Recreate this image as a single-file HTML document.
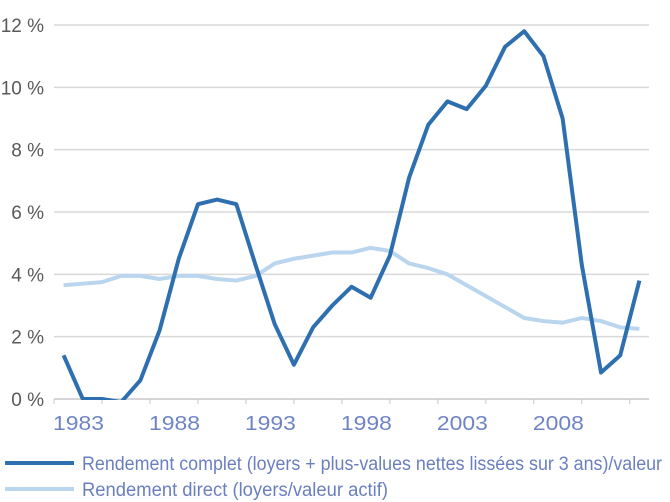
<!DOCTYPE html>
<html><head><meta charset="utf-8"><style>
html,body{margin:0;padding:0;background:#fff}
svg{display:block;font-family:"Liberation Sans Narrow","Liberation Sans",sans-serif}
</style></head><body>
<svg id="chart" width="670" height="502" viewBox="0 0 670 502">
<g id="grid"></g>
<g id="ylabels"></g>
<g id="xaxis"></g>
<g id="series"></g>
<g>
  <line x1="5" y1="463" x2="74" y2="463" stroke="#2e6fb0" stroke-width="4"/>
  <text x="82" y="470" font-size="19" fill="#6a7fc0" textLength="580" lengthAdjust="spacingAndGlyphs">Rendement complet (loyers + plus-values nettes lissées sur 3 ans)/valeur</text>
  <line x1="5" y1="489" x2="74" y2="489" stroke="#bad5ee" stroke-width="4"/>
  <text x="82" y="496" font-size="19" fill="#6a7fc0" textLength="306" lengthAdjust="spacingAndGlyphs">Rendement direct (loyers/valeur actif)</text>
</g>
</svg>
<script>
const years = [1983,1984,1985,1986,1987,1988,1989,1990,1991,1992,1993,1994,1995,1996,1997,1998,1999,2000,2001,2002,2003,2004,2005,2006,2007,2008,2009,2010,2011,2012,2013];
const complet = [1.4,0,0,-0.1,0.6,2.2,4.5,6.25,6.4,6.25,4.3,2.4,1.1,2.3,3.0,3.6,3.25,4.6,7.1,8.8,9.55,9.3,10.05,11.3,11.8,11.0,9.0,4.3,0.85,1.4,3.8];
const direct = [3.65,3.7,3.75,3.95,3.95,3.85,3.95,3.95,3.85,3.8,3.95,4.35,4.5,4.6,4.7,4.7,4.85,4.75,4.35,4.2,4.0,3.65,3.3,2.95,2.6,2.5,2.45,2.6,2.5,2.3,2.25];
const yTicks = [0,2,4,6,8,10,12];
const yTickLabels = ["0 %","2 %","4 %","6 %","8 %","10 %","12 %"];
const xTickLabels = ["1983","1988","1993","1998","2003","2008"];

const NS="http://www.w3.org/2000/svg";
const X0=54, X1=649, Y0=399, Y12=25;
const cw=(X1-X0)/years.length;
const xCat=i=>X0+cw*(i+0.5);
const xBound=i=>X0+cw*i;
const y=v=>Y0-(v/12)*(Y0-Y12);
function mk(tag,attrs,parent){const e=document.createElementNS(NS,tag);for(const k in attrs)e.setAttribute(k,attrs[k]);parent.appendChild(e);return e;}

const grid=document.getElementById('grid'), yl=document.getElementById('ylabels'), xa=document.getElementById('xaxis'), ser=document.getElementById('series');
yTicks.forEach((v,i)=>{
  if(v>0){const l=mk('line',{x1:X0,x2:X1,y1:y(v),y2:y(v),stroke:'#d9d9d9','stroke-width':1.5},grid);
  
  }
  const t=mk('text',{x:44,y:y(v)+7,'text-anchor':'end','font-size':19,fill:'#595959'},yl);
  t.textContent=yTickLabels[i];
  
  
});
const ax=mk('line',{x1:X0,x2:X1,y1:Y0,y2:Y0,stroke:'#c8c8c8','stroke-width':1.5},xa);


for(let i=0;i<=years.length;i+=2.5){
  const tk=mk('line',{x1:xBound(i),x2:xBound(i),y1:Y0,y2:Y0+5,stroke:'#c8c8c8','stroke-width':1},xa);
  
  
}
xTickLabels.forEach((lab,i)=>{
  const idx=years.indexOf(+lab);
  const t=mk('text',{x:xBound(idx)-1,y:Y0+31,'font-size':20,fill:'#6f84c4',textLength:51,lengthAdjust:'spacingAndGlyphs'},xa);
  t.textContent=lab;
  
  
});
const clip=mk('clipPath',{id:'pc'},ser);
mk('rect',{x:0,y:0,width:670,height:Y0+1},clip);
function line(vals,color,w,name){
  const p=mk('polyline',{points:vals.map((v,i)=>xCat(i)+','+y(v)).join(' '),fill:'none',stroke:color,'stroke-width':w,'stroke-linejoin':'round','clip-path':'url(#pc)'},ser);
  
  
}
line(direct,'#bad5ee',4,'line-rendement-direct');
line(complet,'#2e6fb0',4,'line-rendement-complet');
</script>
</body></html>
